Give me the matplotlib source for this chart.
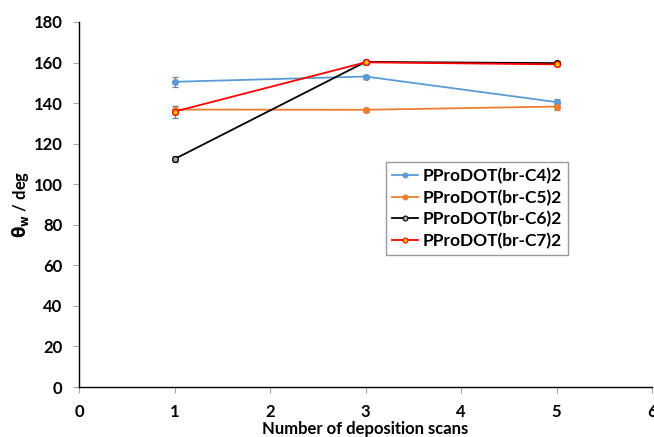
import matplotlib.pyplot as plt
from matplotlib.lines import Line2D

plt.rcParams["font.family"] = ["Lato", "DejaVu Sans"]
plt.rcParams["font.weight"] = "bold"

scans = [1, 3, 5]

c4 = [150.5, 153.1, 140.5]
c4_err = [2.5, 1.0, 1.5]
c5 = [136.8, 136.7, 138.3]
c5_err = [2.0, 1.0, 1.5]
c6 = [112.4, 160.3, 159.7]
c6_err = [1.5, 0.8, 1.0]
c7 = [135.8, 160.1, 159.1]
c7_err = [3.0, 0.8, 1.0]

labels = ["PProDOT(br-C4)2", "PProDOT(br-C5)2", "PProDOT(br-C6)2", "PProDOT(br-C7)2"]

# line colour, marker face, marker edge per series
styles = [
    ("#5B9BD5", "#5B9BD5", "#5B9BD5"),
    ("#ED7D31", "#ED7D31", "#ED7D31"),
    ("black", "#a6a6a6", "black"),
    ("#FF0000", "#FFC000", "#FF0000"),
]

fig = plt.figure(figsize=(6.54, 4.37), dpi=100)
ax = fig.add_axes([0.1208, 0.1144, 0.8762, 0.8353])

handles = []
for vals, errs, (lc, mfc, mec) in zip([c4, c5, c6, c7], [c4_err, c5_err, c6_err, c7_err], styles):
    ax.errorbar(scans, vals, yerr=errs, color=lc, marker="o", markersize=4.2,
                markerfacecolor=mfc, markeredgecolor=mec, markeredgewidth=0.9,
                linewidth=1.3, ecolor="#7f7f7f", elinewidth=0.8, capsize=2)
    handles.append(Line2D([], [], color=lc, marker="o", markersize=3.5,
                          markerfacecolor=mfc, markeredgecolor=mec,
                          markeredgewidth=0.8, linewidth=1.3))

ax.set_xlim(0, 6)
ax.set_ylim(0, 180)
ax.set_xticks(range(0, 7))
ax.set_yticks(range(0, 181, 20))
for s in ["top", "right"]:
    ax.spines[s].set_visible(False)
ax.spines["left"].set_linewidth(1.0)
ax.spines["bottom"].set_linewidth(1.0)
ax.tick_params(axis="both", length=4, width=0.8, color="#a6a6a6", labelsize=12, pad=8)
for t in ax.get_xticklabels() + ax.get_yticklabels():
    t.set_fontweight("bold")

ax.set_xlabel("Number of deposition scans", fontsize=12, fontweight="bold", labelpad=1)
ax.set_ylabel(r"$\mathbf{\theta_w}$ / deg", fontsize=12, fontweight="bold", labelpad=2)

leg = ax.legend(handles, labels, loc="upper left", bbox_to_anchor=(0.52, 0.64),
                frameon=True, fancybox=False, edgecolor="#808080", fontsize=12.5,
                handlelength=1.5, handletextpad=0.3, borderpad=0.35, labelspacing=0.3)
leg.get_frame().set_linewidth(1.0)
for t in leg.get_texts():
    t.set_fontweight("bold")

fig.savefig("out.png", dpi=100)
